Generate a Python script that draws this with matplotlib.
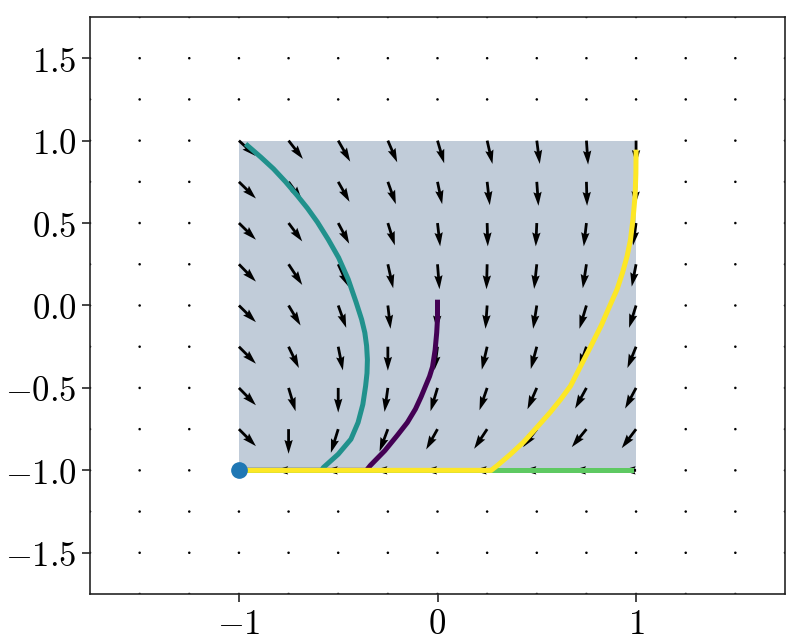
import matplotlib
matplotlib.use('Agg')
import matplotlib.pyplot as plt
import numpy as np

# ---- data ----
grid = np.arange(-1.75, 1.76, 0.25)          # 15 x 15 quiver points
box_x = [-1.0, -0.75, -0.5, -0.25, 0.0, 0.25, 0.5, 0.75, 1.0]
box_y = [1.0, 0.75, 0.5, 0.25, 0.0, -0.25, -0.5, -0.75, -1.0]

# arrow components inside the box (right = +, down = +), rows from y=1 to y=-1
arrow_dx = [
    [50, 43, 36, 28, 20, 16, 9, 5, 0],
    [51, 40, 34, 24, 14, 8, 5, 2, -3],
    [51, 41, 33, 21, 8, 2, -3, -8, -9],
    [51, 41, 31, 16, 6, -2, -8, -11, -13],
    [51, 36, 24, 8, -2, -5, -11, -21, -21],
    [51, 31, 14, 0, -9, -16, -18, -21, -26],
    [51, 21, 0, -10, -21, -23, -28, -34, -33],
    [51, 0, -22, -25, -34, -39, -41, -44, -43],
    [0, -43, -43, -43, -43, -43, -43, -43, -43],
]
arrow_dy = [
    [46, 55, 63, 65, 68, 70, 70, 72, 70],
    [50, 55, 60, 67, 67, 70, 72, 72, 70],
    [50, 55, 62, 67, 70, 70, 70, 70, 67],
    [52, 62, 67, 72, 75, 75, 74, 72, 67],
    [50, 60, 67, 70, 72, 70, 70, 70, 67],
    [51, 64, 71, 72, 70, 69, 67, 62, 64],
    [52, 70, 74, 72, 70, 67, 64, 62, 62],
    [51, 74, 71, 67, 61, 59, 54, 54, 57],
    [0, 0, 0, 0, 0, 0, 0, 0, 0],
]

# trajectories
purple_x = [0.0, 0.0, -0.004, -0.012, -0.025, -0.04, -0.06, -0.083, -0.111, -0.152,
            -0.202, -0.265, -0.338, -0.358, -1.0]
purple_y = [0.02, -0.08, -0.165, -0.27, -0.372, -0.43, -0.488, -0.555, -0.628, -0.71,
            -0.787, -0.88, -0.97, -1.0, -1.0]
teal_x = [-0.957, -0.89, -0.826, -0.765, -0.705, -0.655, -0.605, -0.55, -0.498, -0.45,
          -0.41, -0.382, -0.366, -0.357, -0.353, -0.355, -0.362, -0.376, -0.400, -0.436,
          -0.50, -0.574, -0.584, -1.0]
teal_y = [0.97, 0.90, 0.829, 0.75, 0.665, 0.59, 0.506, 0.40, 0.29, 0.16,
          0.02, -0.085, -0.165, -0.245, -0.329, -0.41, -0.488, -0.60, -0.71, -0.811,
          -0.902, -0.982, -1.0, -1.0]
green_x = [0.972, -1.0]
green_y = [-1.0, -1.0]
yellow_x = [1.0, 0.999, 0.995, 0.985, 0.972, 0.955, 0.932, 0.905, 0.872, 0.825, 0.771,
            0.72, 0.67, 0.62, 0.569, 0.50, 0.433, 0.365, 0.302, 0.27, -1.0]
yellow_y = [0.93, 0.80, 0.665, 0.53, 0.40, 0.30, 0.20, 0.10, 0.01, -0.12, -0.25,
            -0.37, -0.488, -0.57, -0.646, -0.74, -0.829, -0.905, -0.97, -1.0, -1.0]

xticks = [-1, 0, 1]
xticklabels = ['$-1$', '$0$', '$1$']
yticks = [-1.5, -1.0, -0.5, 0.0, 0.5, 1.0, 1.5]
yticklabels = ['$-1.5$', '$-1.0$', '$-0.5$', '$0.0$', '$0.5$', '$1.0$', '$1.5$']
#########################################

plt.rcParams['mathtext.fontset'] = 'cm'

X, Y = np.meshgrid(grid, grid)
U = np.zeros_like(X)
V = np.zeros_like(X)
for i, yv in enumerate(box_y):
    for j, xv in enumerate(box_x):
        r = np.argmin(abs(grid - yv))
        c = np.argmin(abs(grid - xv))
        U[r, c] = arrow_dx[i][j]
        V[r, c] = -arrow_dy[i][j]

fig = plt.figure(figsize=(8, 6.43), dpi=100)
ax = fig.add_axes([0.1125, 0.0762, 0.86875, 0.8974])

ax.fill_between([-1, 1], [-1, -1], [1, 1], color='#c1ccd9', lw=0, zorder=1)
ax.quiver(X, Y, U, V, angles='uv', scale_units='dots', scale=3, color='k', zorder=2)

cm = plt.get_cmap('viridis')
lw = 3.6
ax.plot(purple_x, purple_y, color=cm(0.0), lw=lw, zorder=3)
ax.plot(teal_x, teal_y, color=cm(0.5), lw=lw, zorder=3)
ax.plot(green_x, green_y, color=cm(0.75), lw=lw, zorder=3)
ax.plot(yellow_x, yellow_y, color=cm(1.0), lw=lw, zorder=3)
ax.plot([-1], [-1], 'o', color='C0', ms=11, zorder=4)

ax.set_xlim(-1.75, 1.75)
ax.set_ylim(-1.75, 1.75)
ax.set_xticks(xticks)
ax.set_xticklabels(xticklabels)
ax.set_yticks(yticks)
ax.set_yticklabels(yticklabels)
ax.tick_params(labelsize=25, length=5.5, width=1.2, color='#262626', pad=4)
for s in ax.spines.values():
    s.set_color('#262626')
    s.set_linewidth(1.2)

fig.savefig('out.png', dpi=100)
